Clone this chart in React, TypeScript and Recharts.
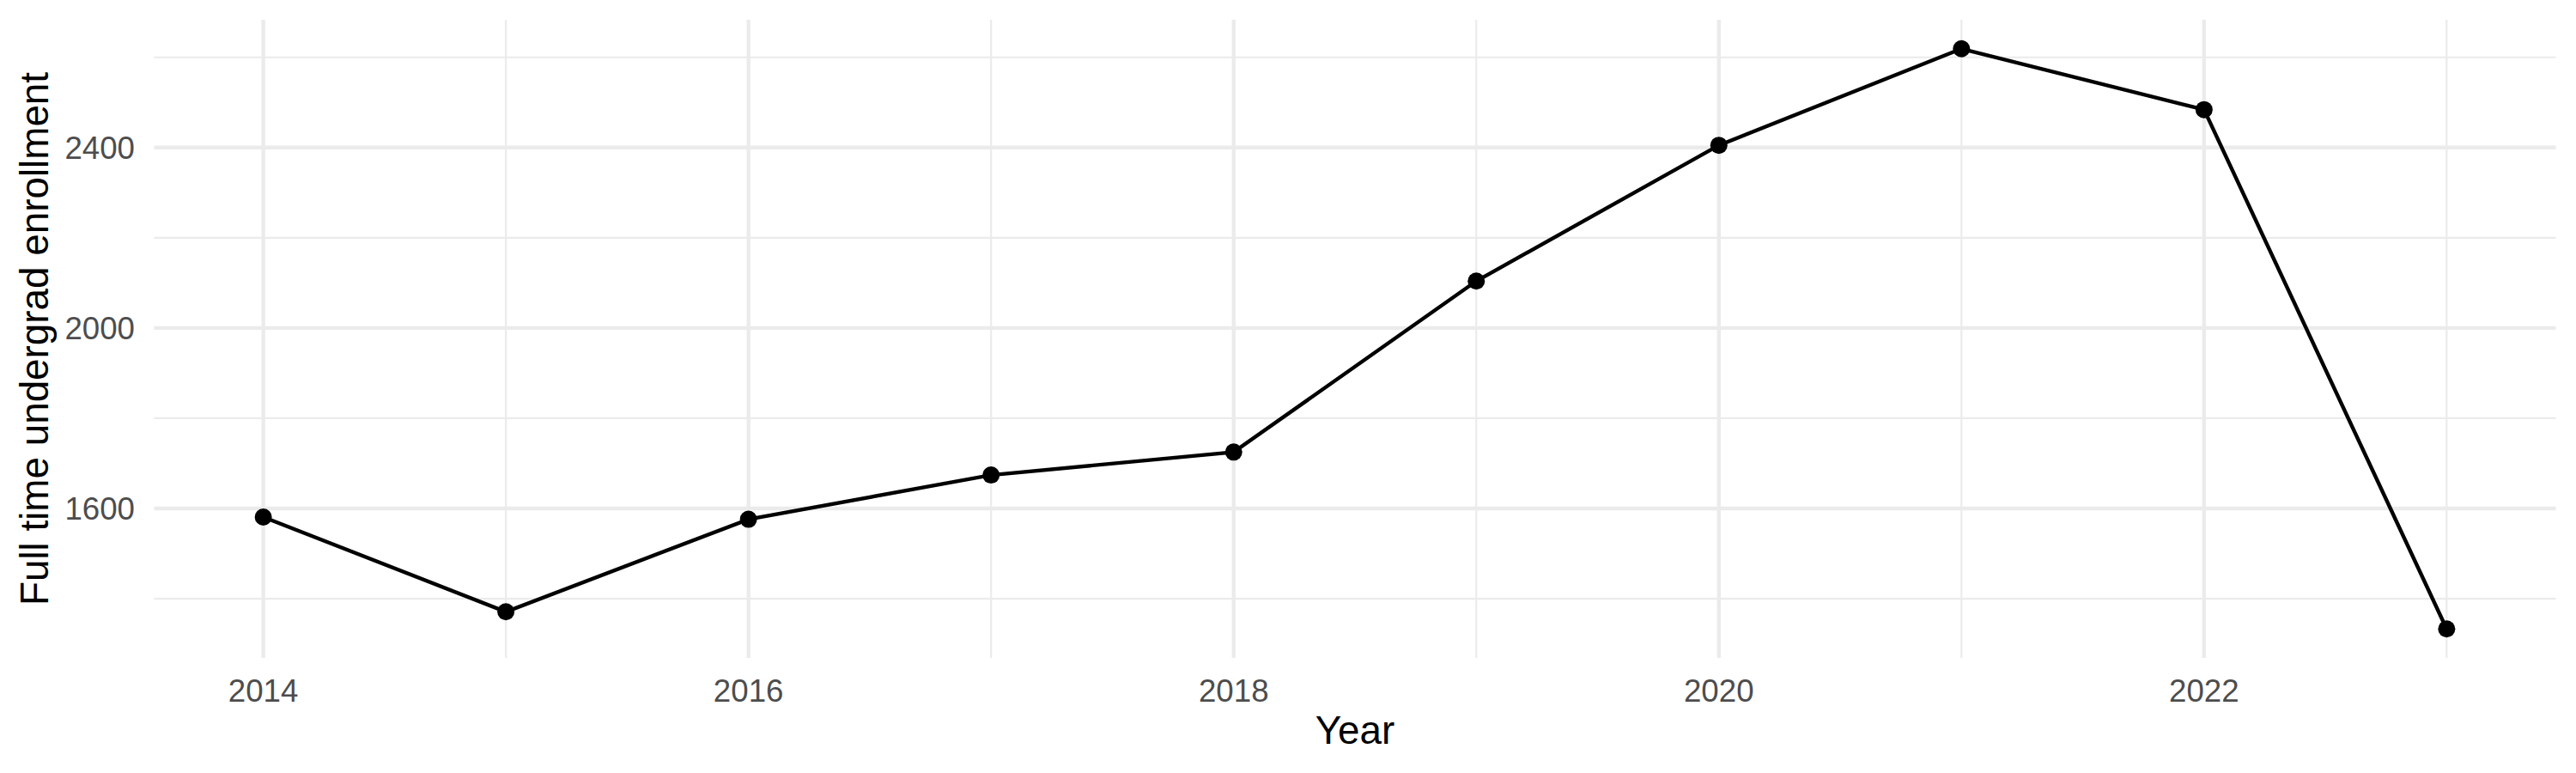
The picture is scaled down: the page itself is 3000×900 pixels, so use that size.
import React from 'react';
import { LineChart, Line, XAxis, YAxis, ReferenceLine } from 'recharts';

const years = [2014, 2015, 2016, 2017, 2018, 2019, 2020, 2021, 2022, 2023];
const enrollment = [1581, 1371, 1576, 1674, 1725, 2104, 2405, 2619, 2484, 1333];

const xMajor = [2014, 2016, 2018, 2020, 2022];
const xMinor = [2015, 2017, 2019, 2021, 2023];
const yMajor = [1600, 2000, 2400];
const yMinor = [1400, 1800, 2200, 2600];

const data = years.map((year, i) => ({ year, value: enrollment[i] }));

const FONT = '"Liberation Sans", Arial, Helvetica, sans-serif';
const GRID = '#EBEBEB';

const XTitle = (props: any) => {
  const { viewBox } = props;
  return (
    <text x={viewBox.x + viewBox.width / 2} y={viewBox.y + 100} textAnchor="middle"
      fontFamily={FONT} fontSize={45.8} fill="#000">
      Year
    </text>
  );
};

const YTitle = (props: any) => {
  const { viewBox } = props;
  const cx = 56;
  const cy = viewBox.y + viewBox.height / 2;
  return (
    <text x={cx} y={cy} textAnchor="middle" transform={`rotate(-90, ${cx}, ${cy})`}
      fontFamily={FONT} fontSize={45.8} fill="#000">
      Full time undergrad enrollment
    </text>
  );
};

const App: React.FC = () => {
  return (
    <div style={{ position: 'absolute', left: 0, top: 0, width: 3000, height: 900, background: '#fff' }}>
      <LineChart width={3000} height={900} data={data}
        margin={{ top: 23, right: 23.5, bottom: 0, left: 0 }}>
        <XAxis dataKey="year" type="number" domain={[2013.55, 2023.45]} ticks={xMajor}
          allowDataOverflow axisLine={false} tickLine={false} tickSize={0} tickMargin={25}
          height={134} interval={0}
          tick={{ fill: '#4D4D4D', fontSize: 36.7, fontFamily: FONT }}
          label={<XTitle />} />
        <YAxis type="number" domain={[1268.7, 2683.3]} ticks={yMajor} allowDataOverflow
          axisLine={false} tickLine={false} tickSize={0} tickMargin={22.5} width={179.5}
          interval={0}
          tick={{ fill: '#4D4D4D', fontSize: 36.7, fontFamily: FONT }}
          label={<YTitle />} />
        {yMinor.map(v => (
          <ReferenceLine key={`ym${v}`} y={v} stroke={GRID} strokeWidth={2.2} />
        ))}
        {xMinor.map(v => (
          <ReferenceLine key={`xm${v}`} x={v} stroke={GRID} strokeWidth={2.2} />
        ))}
        {yMajor.map(v => (
          <ReferenceLine key={`yM${v}`} y={v} stroke={GRID} strokeWidth={4.4} />
        ))}
        {xMajor.map(v => (
          <ReferenceLine key={`xM${v}`} x={v} stroke={GRID} strokeWidth={4.4} />
        ))}
        <Line dataKey="value" type="linear" stroke="#000" strokeWidth={4.4}
          dot={{ r: 10, fill: '#000', stroke: '#000', strokeWidth: 0 }}
          activeDot={false} isAnimationActive={false} />
      </LineChart>
    </div>
  );
};

export default App;
